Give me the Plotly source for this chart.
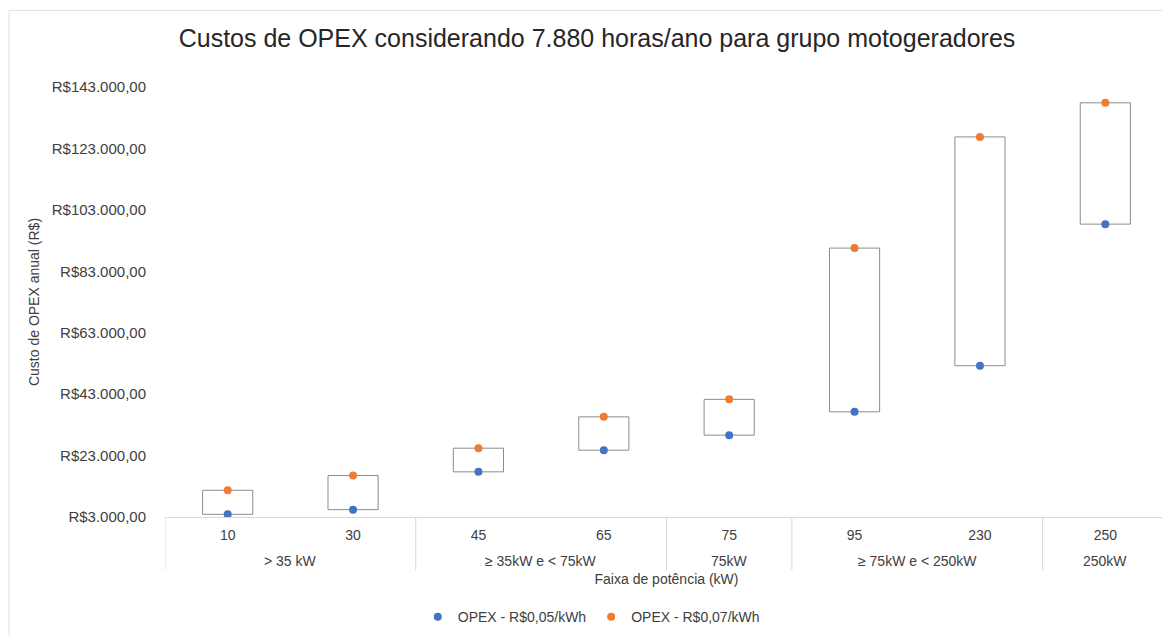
import plotly.graph_objects as go

groups = ["> 35 kW", "> 35 kW", "≥ 35kW e < 75kW", "≥ 35kW e < 75kW", "75kW",
          "≥ 75kW e < 250kW", "≥ 75kW e < 250kW", "250kW"]
potencias = ["10", "30", "45", "65", "75", "95", "230", "250"]
opex_005 = [3880, 5400, 17700, 24750, 29650, 37250, 52250, 98350]
opex_007 = [11700, 16500, 25400, 35600, 41300, 90550, 126750, 137850]
y_ticks = [3000, 23000, 43000, 63000, 83000, 103000, 123000, 143000]
y_ticktext = ["R$3.000,00", "R$23.000,00", "R$43.000,00", "R$63.000,00",
              "R$83.000,00", "R$103.000,00", "R$123.000,00", "R$143.000,00"]

FONT = "Liberation Sans, Arial, sans-serif"
GRID = "#d9d9d9"
W, H = 1162, 628   # page body has an 8px margin

fig = go.Figure()
fig.add_trace(go.Bar(
    x=potencias, y=[b - a for a, b in zip(opex_005, opex_007)], base=opex_005,
    width=0.4, marker=dict(color="white", line=dict(color="#8c8c8c", width=1)),
    showlegend=False, hoverinfo="skip"))
fig.add_trace(go.Scatter(
    x=potencias, y=opex_005, mode="markers", name="OPEX - R$0,05/kWh",
    marker=dict(color="#4472C4", size=8)))
fig.add_trace(go.Scatter(
    x=potencias, y=opex_007, mode="markers", name="OPEX - R$0,07/kWh",
    marker=dict(color="#ED7D31", size=8)))

# group spans derived from the groups list
spans = []
start = 0
for i in range(1, len(groups) + 1):
    if i == len(groups) or groups[i] != groups[start]:
        spans.append((groups[start], start, i - 1))
        start = i

DIV_Y = -0.124   # bottom of divider lines (paper units)
shapes = []
annotations = []
for name, a, b in spans:
    annotations.append(dict(text=name, x=(a + b) / 2, xref="x", y=-0.103, yref="paper",
                            showarrow=False, xanchor="center", yanchor="middle",
                            font=dict(size=14, color="#404040")))
edges = sorted({a - 0.5 for _, a, _ in spans} | {b + 0.5 for _, _, b in spans})
for e in edges:
    shapes.append(dict(type="line", xref="x", yref="paper", x0=e, x1=e, y0=0, y1=DIV_Y,
                       line=dict(color=GRID, width=1)))
shapes.append(dict(type="rect", xref="paper", yref="paper",
                   x0=-0.1555, x1=1.05, y0=-0.35, y1=1.178,
                   line=dict(color="#e0e0e0", width=1), fillcolor="rgba(0,0,0,0)",
                   layer="below"))

fig.update_layout(
    width=W, height=H,
    margin=dict(l=157, r=2, t=79, b=119),
    paper_bgcolor="white", plot_bgcolor="white",
    font=dict(family=FONT, color="#404040", size=14),
    title=dict(text="Custos de OPEX considerando 7.880 horas/ano para grupo motogeradores",
               x=589 / W, xref="container", y=1 - 30 / H, yref="container",
               xanchor="center", yanchor="middle",
               font=dict(size=25, color="#262626")),
    showlegend=True,
    legend=dict(orientation="h", x=0.425, xanchor="center", y=-0.233, yanchor="middle",
                font=dict(size=14), itemwidth=30),
    xaxis=dict(type="category", automargin=False, showline=True, linecolor=GRID, linewidth=1,
               showgrid=False, ticks="", tickfont=dict(size=14), ticklabelstandoff=5,
               range=[-0.5, len(potencias) - 0.5],
               title=dict(text="Faixa de potência (kW)", font=dict(size=14), standoff=32)),
    yaxis=dict(range=[3000, 143000], tickvals=y_ticks, ticktext=y_ticktext, automargin=False,
               showgrid=False, zeroline=False, showline=False, ticks="",
               tickfont=dict(size=15), ticklabelstandoff=18,
               title=dict(text="Custo de OPEX anual (R$)", font=dict(size=14), standoff=8)),
    shapes=shapes,
    annotations=annotations,
)

fig.write_html("out.html")
